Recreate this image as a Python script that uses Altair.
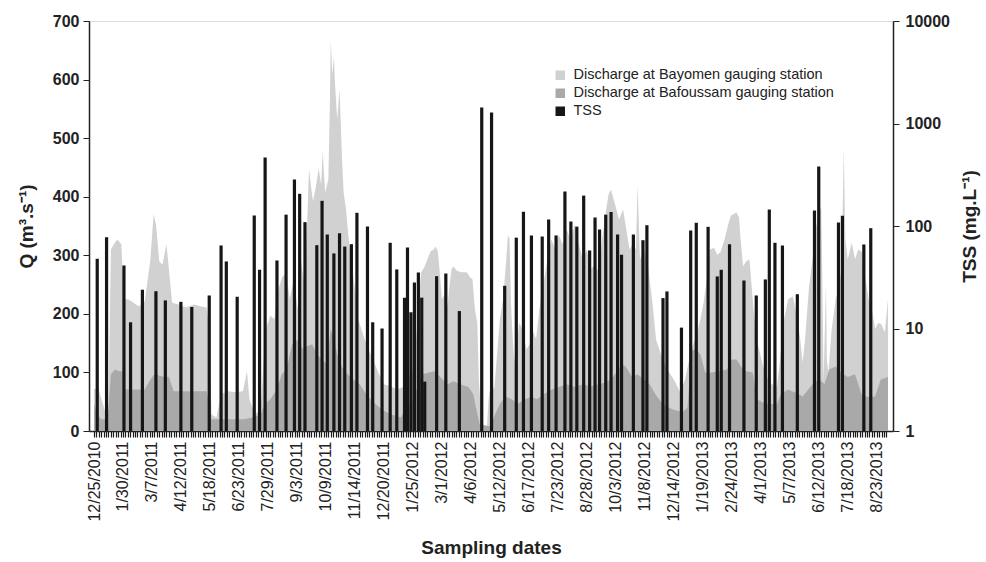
import altair as alt
import pandas as pd

# ---------------- data ----------------
start_date = "12/25/2010"
x_labels = ["12/25/2010", "1/30/2011", "3/7/2011", "4/12/2011", "5/18/2011", "6/23/2011",
            "7/29/2011", "9/3/2011", "10/9/2011", "11/14/2011", "12/20/2011", "1/25/2012",
            "3/1/2012", "4/6/2012", "5/12/2012", "6/17/2012", "7/23/2012", "8/28/2012",
            "10/3/2012", "11/8/2012", "12/14/2012", "1/19/2013", "2/24/2013", "4/1/2013",
            "5/7/2013", "6/12/2013", "7/18/2013", "8/23/2013"]
end_day = 986

# (days since 12/25/2010, Q m3/s)
bayomen = [(0, 71), (5, 75), (10, 51), (15, 28), (18, 37), (21, 310), (26, 322), (29, 327), (34, 319),
           (37, 225), (42, 225), (47, 221), (52, 216), (56, 213), (63, 221), (70, 293), (74, 370),
           (77, 353), (81, 290), (85, 284), (90, 319), (93, 276), (97, 219), (105, 216), (114, 211),
           (124, 216), (132, 213), (140, 211), (143, 173), (146, 28), (152, 23), (158, 63), (167, 68),
           (175, 66), (185, 68), (190, 102), (193, 54), (200, 28), (207, 37), (213, 173), (219, 197),
           (224, 191), (229, 242), (234, 264), (239, 267), (243, 225), (248, 259), (253, 208), (257, 293),
           (262, 242), (267, 448), (270, 412), (272, 392), (276, 421), (279, 448), (282, 421), (284, 477),
           (287, 407), (291, 430), (293, 566), (294, 668), (296, 609), (298, 640), (299, 600), (302, 532),
           (303, 549), (305, 583), (308, 464), (310, 407), (313, 378), (316, 332), (320, 285), (324, 242),
           (328, 191), (332, 174), (336, 157), (342, 136), (348, 117), (354, 97), (360, 80), (369, 76),
           (376, 71), (384, 75), (389, 105), (394, 88), (398, 122), (402, 191), (406, 270), (410, 279),
           (414, 293), (418, 307), (422, 310), (424, 315), (427, 307), (429, 276), (432, 225), (435, 233),
           (439, 213), (441, 242), (444, 276), (446, 281), (451, 273), (457, 271), (463, 271), (467, 262),
           (470, 259), (473, 208), (476, 185), (478, 83), (482, 11), (488, 8), (490, 54), (493, 83),
           (497, 71), (500, 122), (504, 191), (508, 225), (512, 293), (514, 335), (516, 327), (518, 213),
           (520, 156), (522, 117), (525, 148), (528, 185), (532, 174), (537, 139), (541, 148), (544, 174),
           (549, 157), (553, 208), (558, 250), (563, 293), (568, 327), (573, 310), (577, 335), (582, 319),
           (587, 344), (592, 327), (597, 353), (602, 319), (607, 293), (612, 310), (617, 276), (622, 284),
           (627, 270), (631, 327), (636, 378), (639, 404), (642, 412), (647, 387), (652, 361), (657, 378),
           (661, 344), (665, 310), (669, 319), (673, 310), (675, 421), (678, 293), (683, 310), (688, 281),
           (693, 225), (698, 156), (704, 131), (712, 105), (720, 88), (728, 66), (734, 88), (741, 134),
           (746, 156), (749, 168), (753, 191), (757, 219), (761, 259), (765, 310), (770, 313), (774, 301),
           (778, 305), (783, 327), (788, 355), (791, 368), (794, 370), (798, 373), (801, 364), (803, 327),
           (806, 281), (810, 290), (814, 293), (819, 208), (823, 156), (826, 139), (831, 110), (837, 88),
           (842, 80), (848, 76), (852, 122), (857, 191), (862, 225), (868, 230), (871, 208), (874, 185),
           (877, 157), (880, 117), (883, 157), (888, 247), (893, 301), (896, 344), (900, 370), (903, 383),
           (904, 310), (906, 83), (909, 253), (910, 122), (912, 100), (916, 173), (921, 225), (925, 242),
           (928, 276), (930, 395), (931, 484), (933, 327), (936, 293), (941, 322), (945, 293), (949, 310),
           (954, 305), (958, 259), (962, 225), (966, 208), (970, 174), (974, 185), (978, 182), (982, 168),
           (986, 225)]

bafoussam = [(0, 46), (4, 28), (9, 20), (17, 20), (21, 97), (26, 105), (31, 102), (36, 102), (38, 71),
             (50, 71), (63, 71), (70, 88), (75, 97), (85, 93), (93, 92), (99, 68), (118, 68), (140, 68),
             (143, 46), (146, 20), (161, 20), (185, 20), (197, 23), (207, 28), (212, 46), (219, 54),
             (227, 71), (233, 97), (239, 105), (246, 148), (253, 156), (259, 140), (265, 145), (271, 148),
             (277, 131), (283, 122), (289, 114), (294, 174), (298, 157), (302, 131), (308, 109), (315, 97),
             (322, 88), (330, 80), (338, 63), (347, 49), (357, 37), (369, 28), (381, 23), (387, 37),
             (396, 54), (403, 80), (408, 97), (416, 100), (423, 102), (430, 92), (439, 80), (446, 85),
             (455, 80), (465, 75), (471, 63), (474, 42), (479, 11), (492, 8), (498, 28), (504, 46),
             (511, 59), (519, 54), (526, 46), (535, 54), (543, 58), (550, 54), (559, 63), (568, 71),
             (577, 75), (587, 80), (597, 75), (607, 80), (617, 76), (627, 80), (635, 83), (642, 88),
             (651, 105), (656, 114), (661, 109), (668, 92), (675, 97), (683, 88), (690, 80), (697, 63),
             (706, 46), (718, 37), (731, 32), (737, 40), (742, 136), (747, 140), (753, 131), (759, 100),
             (767, 100), (776, 102), (786, 105), (792, 122), (798, 122), (804, 109), (810, 102), (818, 100),
             (823, 54), (835, 46), (848, 46), (853, 63), (862, 71), (872, 65), (880, 59), (887, 71),
             (894, 83), (901, 88), (907, 80), (913, 105), (921, 110), (928, 100), (936, 92), (945, 97),
             (953, 63), (960, 58), (970, 59), (977, 88), (986, 92)]

# (days since 12/25/2010, TSS mg/L)
tss = [(4, 47.9), (15.6, 77.8), (37.2, 41.2), (45.4, 11.5), (60.1, 23.9), (76.9, 23.1), (88.6, 18.8),
       (107.9, 18.2), (121.4, 16.2), (143.1, 21.0), (157.8, 64.6), (164.3, 45.1), (177.8, 20.4),
       (199, 126.6), (205.6, 37.4), (212.5, 465), (227.2, 46.1), (238.5, 129), (248.9, 284),
       (255.4, 206), (262, 109), (276.7, 65), (283.2, 176), (289.7, 82.6), (297.9, 54), (304.9, 85),
       (311.4, 63), (319.6, 66.5), (326.5, 134.5), (339.6, 98.9), (346.1, 11.5), (357.7, 10),
       (367.8, 68.6), (376, 37.7), (385.6, 20), (389.3, 61.7), (393.6, 14.4), (397.9, 28.1),
       (402.8, 35.2), (407, 20), (410.7, 3.03), (425.5, 32.4), (436.9, 34.4), (453.7, 14.8),
       (481.5, 1429), (493.7, 1277), (510, 26.1), (524.4, 77), (533.3, 138), (543.2, 80.9),
       (556.6, 79), (564.6, 115.7), (573.8, 80.9), (584.8, 217), (592.2, 110.6), (599.6, 98.6),
       (608.1, 198), (615.5, 57.7), (622.2, 121), (627.8, 92.4), (635.5, 129), (642.1, 137),
       (650.2, 82.6), (655.1, 52.4), (669.8, 82.6), (681.7, 72.7), (686.6, 101.8), (706.6, 19.8),
       (711.5, 23), (729.5, 10.2), (741, 90.4), (747.9, 107.5), (762.6, 98.2), (774, 32.2),
       (778.9, 37.4), (789.2, 66.5), (807.1, 29.4), (822.4, 21), (833.7, 30.1), (838.6, 144.8),
       (845.6, 68.6), (854.9, 64.6), (873.4, 21.6), (894.7, 141.6), (900, 380), (924.5, 108),
       (929.4, 125.7), (956, 66), (964.6, 95.2)]

series_names = ["Discharge at Bayomen gauging station",
                "Discharge at Bafoussam gauging station",
                "TSS"]
series_colors = ["#d1d1d1", "#a9a9a9", "#161616"]

# ---------------- build tables ----------------
t0 = pd.to_datetime(start_date, format="%m/%d/%Y")
label_days = [int((pd.to_datetime(s, format="%m/%d/%Y") - t0).days) for s in x_labels]

df_bay = pd.DataFrame(bayomen, columns=["day", "q"]).assign(series=series_names[0])
df_baf = pd.DataFrame(bafoussam, columns=["day", "q"]).assign(series=series_names[1])
df_tss = pd.DataFrame(tss, columns=["day", "tss"]).assign(series=series_names[2], base=1)

FONT = "Liberation Sans"
TXT = "#222222"

days_js = "[" + ",".join(str(d) for d in label_days) + "]"
labs_js = "[" + ",".join("'" + s + "'" for s in x_labels) + "]"
label_expr = f"indexof({days_js}, datum.value) >= 0 ? {labs_js}[indexof({days_js}, datum.value)] : ''"

x_scale = alt.Scale(domain=[0, end_day], nice=False, zero=False)
x_axis = alt.Axis(values=list(range(0, end_day + 1, 3)), labelExpr=label_expr, labelAngle=270,
                  labelAlign="right", labelBaseline="middle", labelOverlap=False, labelFlush=False,
                  labelPadding=4, labelFont=FONT, labelFontSize=16, labelColor=TXT,
                  tickSize=6, tickColor="#1a1a1a", tickWidth=1.2, domainColor="#222222", domainWidth=1.5,
                  grid=False, title="Sampling dates", titleFont=FONT, titleFontSize=19,
                  titleFontWeight="bold", titleColor=TXT, titlePadding=17)

color = alt.Color("series:N",
                  scale=alt.Scale(domain=series_names, range=series_colors),
                  legend=alt.Legend(orient="none", legendX=464, legendY=47, title=None,
                                    symbolType="square", symbolSize=90, symbolStrokeWidth=0,
                                    labelFont=FONT, labelFontSize=14.5, labelColor=TXT, labelLimit=0,
                                    rowPadding=3, labelOffset=6))

q_axis = alt.Axis(values=list(range(0, 701, 100)), tickSize=6, tickColor="#222222", domainColor="#222222",
                  domainWidth=1.5, labelFont=FONT, labelFontSize=16, labelFontWeight="bold",
                  labelColor=TXT, labelPadding=4, grid=False, title="Q (m³.s⁻¹)", titleFont=FONT,
                  titleFontSize=19, titleFontWeight="bold", titleColor=TXT, titlePadding=16)

tss_axis = alt.Axis(orient="right", values=[1, 10, 100, 1000, 10000], format="d", tickSize=6,
                    tickColor="#222222", domainColor="#222222", domainWidth=1.5, labelFont=FONT,
                    labelFontSize=16, labelFontWeight="bold", labelColor=TXT, labelPadding=6,
                    grid=False, title="TSS (mg.L⁻¹)", titleFont=FONT, titleFontSize=19,
                    titleFontWeight="bold", titleColor=TXT, titleAngle=270, titlePadding=30)

q_scale = alt.Scale(domain=[0, 700], nice=False)

bay = alt.Chart(df_bay).mark_area(opacity=1).encode(
    x=alt.X("day:Q", scale=x_scale, axis=x_axis),
    y=alt.Y("q:Q", scale=q_scale, axis=q_axis),
    color=color,
)
baf = alt.Chart(df_baf).mark_area(opacity=1).encode(
    x=alt.X("day:Q", scale=x_scale, axis=x_axis),
    y=alt.Y("q:Q", scale=q_scale, axis=q_axis),
    color=color,
)
bars = alt.Chart(df_tss).mark_bar(size=3.2).encode(
    x=alt.X("day:Q", scale=x_scale, axis=x_axis),
    y=alt.Y("tss:Q", scale=alt.Scale(type="log", domain=[1, 10000], nice=False), axis=tss_axis),
    y2="base:Q",
    color=color,
)

chart = alt.layer(alt.layer(bay, baf), bars).resolve_scale(y="independent").properties(
    width=804, height=410,
    autosize=alt.AutoSizeParams(type="none"),
    padding={"left": 89, "top": 21, "right": 93, "bottom": 131},
).configure_view(stroke="#222222", strokeWidth=1.5).configure(background="white")

chart.save("out.html", embed_options={"renderer": "svg", "actions": False})
